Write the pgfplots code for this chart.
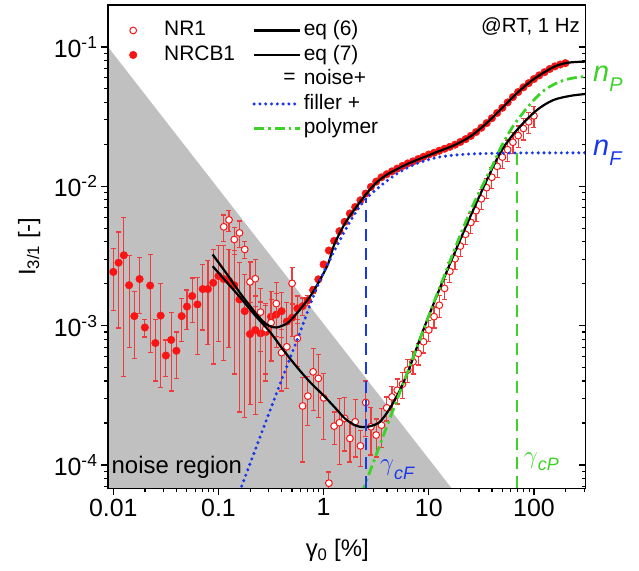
\documentclass[border=0pt]{standalone}
\usepackage{fontspec}
\setmainfont{Liberation Sans}
\usepackage{pgfplots}
\pgfplotsset{compat=1.18}

\definecolor{dotred}{RGB}{250,20,20}
\definecolor{barred}{RGB}{238,60,60}
\definecolor{fillerblue}{RGB}{25,55,235}
\definecolor{polygreen}{RGB}{60,210,40}
\definecolor{noisegray}{RGB}{192,192,192}

\begin{document}
\begin{tikzpicture}
\path[use as bounding box] (-108bp,-82bp) rectangle (531bp,488.3bp);

% right-hand axis: ticks pointing into the plot
\begin{axis}[
  scale only axis, width=477.6bp, height=483.3bp,
  at={(0,0)}, anchor=south west,
  xmode=log, ymode=log,
  xmin=0.0089, xmax=310, ymin=6.8e-5, ymax=0.2,
  axis line style={line width=1.6bp},
  major tick length=7bp, minor tick length=4bp,
  tick style={black, line width=1.2bp},
  ytick={1e-4,1e-3,1e-2,1e-1},
  minor ytick={7e-5,8e-5,9e-5,2e-4,3e-4,4e-4,5e-4,6e-4,7e-4,8e-4,9e-4,
    2e-3,3e-3,4e-3,5e-3,6e-3,7e-3,8e-3,9e-3,2e-2,3e-2,4e-2,5e-2,6e-2,7e-2,8e-2,9e-2},
  hide x axis, axis y line*=right,
  yticklabels={}, tick align=inside]
\end{axis}

\begin{axis}[
  scale only axis, width=477.6bp, height=483.3bp,
  at={(0,0)}, anchor=south west,
  xmode=log, ymode=log,
  xmin=0.0089, xmax=310, ymin=6.8e-5, ymax=0.2,
  axis line style={line width=1.6bp},
  major tick length=7bp, minor tick length=4bp,
  tick style={black, line width=1.2bp},
  ytick={1e-4,1e-3,1e-2,1e-1},
  minor ytick={7e-5,8e-5,9e-5,2e-4,3e-4,4e-4,5e-4,6e-4,7e-4,8e-4,9e-4,
    2e-3,3e-3,4e-3,5e-3,6e-3,7e-3,8e-3,9e-3,2e-2,3e-2,4e-2,5e-2,6e-2,7e-2,8e-2,9e-2},
  axis on top, clip mode=individual,
  xtick pos=left, ytick pos=left, tick align=outside,
  xtick={0.01,0.1,1,10,100},
  xticklabels={0.01,0.1,1,10,100},
  minor xtick={0.02,0.03,0.04,0.05,0.06,0.07,0.08,0.09,0.2,0.3,0.4,0.5,0.6,0.7,0.8,0.9,
    2,3,4,5,6,7,8,9,20,30,40,50,60,70,80,90,200,300},
  yticklabels={10\textsuperscript{-4},10\textsuperscript{-3},10\textsuperscript{-2},10\textsuperscript{-1}},
  tick label style={font=\fontsize{25}{29}\selectfont},
  xlabel={γ\textsubscript{0} [\%]},
  ylabel={I\textsubscript{3/1} [-]},
  label style={font=\fontsize{24}{28}\selectfont},
  xlabel style={at={(axis description cs:0.48,-0.128)}, anchor=center},
  ylabel style={at={(axis description cs:-0.165,0.5)}, anchor=center},
  legend columns=2,
  legend cell align=left,
  legend style={
    at={(axis description cs:0,1)}, anchor=north west,
    xshift=0bp, yshift=-13bp,
    draw=none, fill=none, inner sep=0pt,
    font=\fontsize{21}{25}\selectfont,
    nodes={inner sep=2bp, text height=15.5bp, text depth=5bp},
    /tikz/every even column/.append style={column sep=9bp},
  },
  legend image code/.code={\path[draw=none, fill=none] (0bp,-1bp) rectangle (54bp,1bp);
    \draw[mark repeat=2,mark phase=2,#1]
    plot coordinates {(8bp,0bp) (25bp,0bp) (54bp,0bp)};},
]

% noise region
\addplot[fill=noisegray, draw=none, forget plot]
  coordinates {(0.0089,0.1) (16.5,6.8e-5) (0.0089,6.8e-5)};

% NRCB1 (filled)
\addplot[barred, only marks, mark=*, mark size=3.8bp, mark options={draw=dotred, fill=dotred},
  forget plot, error bars/.cd, y dir=both, y explicit,
  error bar style={barred, line width=1.2bp},
  error mark options={rotate=90, mark size=2.5bp, barred, line width=1.2bp}] coordinates {
(0.01,2.43e-3) +- (0,1.15e-3)
(0.01122,2.83e-3) +- (0,1.87e-3)
(0.01259,3.2e-3) +- (0,2.77e-3)
(0.01413,1.95e-3) +- (0,1.25e-3)
(0.01585,1.17e-3) +- (0,5.9e-4)
(0.01778,2.16e-3) +- (0,9.4e-4)
(0.01995,9.7e-4) +- (0,1.4e-4)
(0.02239,1.94e-3) +- (0,1.3e-3)
(0.02512,7.5e-4) +- (0,3.5e-4)
(0.02818,1.18e-3) +- (0,8.2e-4)
(0.03162,6.1e-4) +- (0,1.8e-4)
(0.03548,7.9e-4) +- (0,4.5e-4)
(0.03981,6.6e-4) +- (0,2.4e-4)
(0.04467,1.17e-3) +- (0,4e-4)
(0.05012,1.37e-3) +- (0,4.3e-4)
(0.05623,1.63e-3) +- (0,5.7e-4)
(0.0631,1.42e-3) +- (0,8e-4)
(0.07079,1.83e-3) +- (0,9e-4)
(0.07943,1.83e-3) +- (0,1.1e-3)
(0.08913,2.03e-3) +- (0,1.5e-3)
(0.1,2.27e-3) +- (0,1.5e-3)
(0.1122,2.16e-3) +- (0,1.6e-3)
(0.1259,2.1e-3) +- (0,1.4e-3)
(0.1413,1.95e-3) +- (0,1.5e-3)
(0.1585,1.54e-3) +- (0,1.3e-3)
(0.1778,1.27e-3) +- (0,1.05e-3)
(0.1995,8.7e-4) +- (0,6e-4)
(0.2239,9.3e-4) +- (0,7e-4)
(0.2512,8.8e-4) +- (0,6e-4)
(0.2818,9.0e-4) +- (0,5e-4)
(0.3162,1.16e-3) +- (0,6e-4)
(0.3548,1.2e-3) +- (0,5e-4)
(0.3981,1.27e-3) +- (0,4.5e-4)
(0.4467,1.07e-3) +- (0,4e-4)
(0.5012,1.14e-3) +- (0,3e-4)
(0.5623,1.33e-3) +- (0,3e-4)
(0.631,1.38e-3) +- (0,2e-4)
(0.7079,1.52e-3) +- (0,1.2e-4)
(0.7943,1.8e-3) +- (0,1e-4)
(0.8913,2.15e-3) +- (0,0)
(1,2.75e-3) +- (0,0)
(1.122,3.46e-3) +- (0,0)
(1.259,4.06e-3) +- (0,0)
(1.413,4.76e-3) +- (0,0)
(1.585,5.56e-3) +- (0,0)
(1.778,6.38e-3) +- (0,0)
(1.995,7.1e-3) +- (0,0)
(2.239,7.94e-3) +- (0,0)
(2.512,8.87e-3) +- (0,0)
(2.818,9.9e-3) +- (0,0)
(3.162,1.08e-2) +- (0,0)
(3.548,1.16e-2) +- (0,0)
(3.981,1.22e-2) +- (0,0)
(4.467,1.28e-2) +- (0,0)
(5.012,1.34e-2) +- (0,0)
(5.623,1.40e-2) +- (0,0)
(6.31,1.46e-2) +- (0,0)
(7.079,1.51e-2) +- (0,0)
(7.943,1.57e-2) +- (0,0)
(8.913,1.63e-2) +- (0,0)
(10,1.69e-2) +- (0,0)
(11.22,1.74e-2) +- (0,0)
(12.59,1.80e-2) +- (0,0)
(14.13,1.86e-2) +- (0,0)
(15.85,1.92e-2) +- (0,0)
(17.78,1.99e-2) +- (0,0)
(19.95,2.08e-2) +- (0,0)
(22.39,2.18e-2) +- (0,0)
(25.12,2.30e-2) +- (0,0)
(28.18,2.45e-2) +- (0,0)
(31.62,2.63e-2) +- (0,0)
(35.48,2.84e-2) +- (0,0)
(39.81,3.08e-2) +- (0,0)
(44.67,3.36e-2) +- (0,0)
(50.12,3.66e-2) +- (0,0)
(56.23,4.00e-2) +- (0,0)
(63.1,4.37e-2) +- (0,0)
(70.79,4.75e-2) +- (0,0)
(79.43,5.13e-2) +- (0,0)
(89.13,5.50e-2) +- (0,0)
(100,5.89e-2) +- (0,0)
(112.2,6.25e-2) +- (0,0)
(125.9,6.59e-2) +- (0,0)
(141.3,6.95e-2) +- (0,0)
(158.5,7.26e-2) +- (0,0)
(177.8,7.48e-2) +- (0,0)
(199.5,7.66e-2) +- (0,0)
};

% NR1 (open)
\addplot[barred, only marks, mark=*, mark size=3.4bp, mark options={draw=dotred, fill=white, line width=1bp},
  forget plot, error bars/.cd, y dir=both, y explicit,
  error bar style={barred, line width=1.2bp},
  error mark options={rotate=90, mark size=2.5bp, barred, line width=1.2bp}] coordinates {
(0.1122,5.12e-3) +- (0,1.1e-3)
(0.1259,5.74e-3) +- (0,1.0e-3)
(0.1413,4.15e-3) +- (0,9e-4)
(0.1585,4.63e-3) +- (0,1.0e-3)
(0.1778,3.52e-3) +- (0,5e-4)
(0.1995,2.06e-3) +- (0,8e-4)
(0.2239,2.17e-3) +- (0,8e-4)
(0.2512,1.25e-3) +- (0,6e-4)
(0.2818,9.5e-4) +- (0,5e-4)
(0.3162,1.05e-3) +- (0,5e-4)
(0.3548,1.44e-3) +- (0,6e-4)
(0.3981,6.4e-4) +- (0,3e-4)
(0.4467,7.05e-4) +- (0,3.5e-4)
(0.5012,2.01e-3) +- (0,6e-4)
(0.5623,8.1e-4) +- (0,3e-4)
(0.631,2.65e-4) +- (0,1.6e-4)
(0.7079,3.12e-4) +- (0,1.2e-4)
(0.7943,4.66e-4) +- (0,2.2e-4)
(0.8913,4.18e-4) +- (0,2e-4)
(1,3.03e-4) +- (0,1.5e-4)
(1.122,7.4e-5) +- (0,1.5e-5)
(1.259,1.9e-4) +- (0,5e-5)
(1.413,2.01e-4) +- (0,1.0e-4)
(1.585,2.16e-4) +- (0,9e-5)
(1.778,1.55e-4) +- (0,5e-5)
(1.995,2.04e-4) +- (0,9e-5)
(2.239,1.37e-4) +- (0,4e-5)
(2.512,2.81e-4) +- (0,1.2e-4)
(2.818,1.88e-4) +- (0,7e-5)
(3.162,1.64e-4) +- (0,5e-5)
(3.548,1.93e-4) +- (0,6e-5)
(3.981,2.57e-4) +- (0,5e-5)
(4.467,3.08e-4) +- (0,6e-5)
(5.012,3.44e-4) +- (0,7e-5)
(5.623,3.8e-4) +- (0,8e-5)
(6.31,4.8e-4) +- (0,9e-5)
(7.079,5.5e-4) +- (0,1e-4)
(7.943,6.32e-4) +- (0,1.1e-4)
(8.913,7.66e-4) +- (0,1.3e-4)
(10,9.3e-4) +- (0,1.6e-4)
(11.22,1.16e-3) +- (0,2e-4)
(12.59,1.4e-3) +- (0,2.5e-4)
(14.13,1.85e-3) +- (0,3e-4)
(15.85,2.45e-3) +- (0,4e-4)
(17.78,3.02e-3) +- (0,5e-4)
(19.95,3.72e-3) +- (0,6e-4)
(22.39,4.52e-3) +- (0,7e-4)
(25.12,5.5e-3) +- (0,9e-4)
(28.18,6.68e-3) +- (0,1.1e-3)
(31.62,8.13e-3) +- (0,1.3e-3)
(35.48,9.77e-3) +- (0,1.6e-3)
(39.81,1.16e-2) +- (0,2e-3)
(44.67,1.39e-2) +- (0,2.4e-3)
(50.12,1.62e-2) +- (0,2.8e-3)
(56.23,1.83e-2) +- (0,3.2e-3)
(63.1,2.07e-2) +- (0,3.6e-3)
(70.79,2.31e-2) +- (0,4e-3)
(79.43,2.6e-2) +- (0,4.5e-3)
(89.13,2.9e-2) +- (0,5e-3)
(100,3.2e-2) +- (0,5.5e-3)
};

% fit of NRCB1
\addplot[black, line width=2.2bp, smooth, forget plot] coordinates {
(0.088,3.24e-3) (0.12,2.35e-3) (0.16,1.72e-3) (0.2,1.38e-3) (0.25,1.12e-3)
(0.3,1.0e-3) (0.357,9.7e-4) (0.45,1.04e-3) (0.553,1.22e-3) (0.74,1.61e-3)
(0.92,2.12e-3) (1.107,2.79e-3) (1.259,3.80e-3) (1.585,5.37e-3) (1.995,6.92e-3)
(2.512,8.71e-3) (3.162,1.06e-2) (3.981,1.21e-2) (5.012,1.33e-2) (6.31,1.45e-2)
(7.943,1.56e-2) (10,1.67e-2) (12.59,1.79e-2) (15.85,1.91e-2) (19.95,2.07e-2)
(25.12,2.29e-2) (31.62,2.63e-2) (39.81,3.08e-2) (50.12,3.66e-2) (63.1,4.37e-2)
(79.43,5.13e-2) (100,5.89e-2) (125.9,6.59e-2) (158.5,7.26e-2) (199.5,7.66e-2)
(251.2,7.80e-2) (310,7.85e-2)
};

% fit of NR1
\addplot[black, line width=2.2bp, smooth, forget plot] coordinates {
(0.088,2.67e-3) (0.12,2.05e-3) (0.16,1.6e-3) (0.22,1.2e-3) (0.309,9.0e-4)
(0.413,6.7e-4) (0.55,5.1e-4) (0.75,3.9e-4) (1.0,3.15e-4) (1.3,2.55e-4)
(1.6,2.15e-4) (2.0,1.92e-4) (2.4,1.87e-4) (2.8,1.9e-4) (3.43,2.04e-4)
(4.27,2.55e-4) (5.31,3.44e-4) (6.61,5.06e-4) (8.22,8.0e-4) (10.2,1.22e-3)
(13.7,2.12e-3) (19.8,4.1e-3) (30.6,8.63e-3) (47.4,1.72e-2) (68.4,2.52e-2)
(106,3.51e-2) (152,4.15e-2) (219,4.45e-2) (294,4.58e-2) (310,4.6e-2)
};

% filler contribution
\addplot[fillerblue, line width=3.4bp, line cap=round, dash pattern=on 0bp off 5.8bp,
  smooth, forget plot] coordinates {
(0.158,6.46e-5) (0.170,7.38e-5) (0.251,1.62e-4) (0.398,4.07e-4) (0.575,8.32e-4)
(0.692,1.22e-3) (0.923,2.12e-3) (1.230,3.30e-3) (1.778,5.56e-3) (2.455,7.94e-3)
(3.715,1.047e-2) (5.309,1.268e-2) (7.674,1.455e-2) (10.96,1.585e-2) (14.79,1.652e-2)
(25.12,1.706e-2) (63.1,1.734e-2) (310,1.738e-2)
};

% polymer contribution
\addplot[polygreen, line width=2.8bp, dash pattern=on 10bp off 4bp on 2.5bp off 4bp,
  smooth, forget plot] coordinates {
(2.291,6.17e-5) (3.981,1.88e-4) (5.623,3.72e-4) (7.943,7.41e-4) (11.22,1.48e-3)
(15.85,2.88e-3) (19.95,4.47e-3) (25.12,6.76e-3) (31.62,9.77e-3) (39.81,1.38e-2)
(50.12,2.0e-2) (63.1,2.69e-2) (79.43,3.39e-2) (100,4.17e-2) (125.9,4.90e-2)
(158.5,5.43e-2) (199.5,5.82e-2) (251.2,6.03e-2) (310,6.14e-2)
};

% critical strains
\addplot[fillerblue, line width=2bp, dash pattern=on 12bp off 7bp, forget plot]
  coordinates {(2.51,6.8e-5) (2.51,8.2e-3)};
\addplot[polygreen, line width=2bp, dash pattern=on 12bp off 7bp, forget plot]
  coordinates {(69,6.8e-5) (69,1.74e-2)};

% legend
\addlegendimage{only marks, mark=*, mark size=3.4bp, mark options={draw=dotred, fill=white, line width=1bp}}
\addlegendentry{NR1}
\addlegendimage{black, line width=2.2bp}
\addlegendentry{eq (6)}
\addlegendimage{only marks, mark=*, mark size=3.8bp, mark options={draw=dotred, fill=dotred}}
\addlegendentry{NRCB1}
\addlegendimage{black, line width=2.2bp}
\addlegendentry{eq (7)}
\addlegendimage{empty legend}
\addlegendentry{}
\addlegendimage{legend image code/.code={\path[draw=none, fill=none] (0bp,-1bp) rectangle (54bp,1bp);
  \node[inner sep=0pt, font=\fontsize{21}{25}\selectfont] at (37bp,1bp) {=};}}
\addlegendentry{noise+}
\addlegendimage{empty legend}
\addlegendentry{}
\addlegendimage{fillerblue, line width=3.4bp, line cap=round, dash pattern=on 0bp off 5.8bp}
\addlegendentry{filler +}
\addlegendimage{empty legend}
\addlegendentry{}
\addlegendimage{polygreen, line width=2.8bp, dash pattern=on 10bp off 4bp on 2.5bp off 4bp}
\addlegendentry{polymer}

% annotations
\node[anchor=base east, inner sep=0pt, font=\fontsize{20.5}{24}\selectfont]
  at (axis description cs:1,1) [xshift=-5.5bp, yshift=-27.3bp] {@RT, 1 Hz};
\node[anchor=base west, inner sep=0pt, font=\fontsize{24}{28}\selectfont]
  at (axis description cs:0,0) [xshift=3.5bp, yshift=15bp] {noise region};
\node[anchor=base west, inner sep=0pt, text=polygreen, font=\fontsize{29}{32}\selectfont]
  at (axis cs:310,0.0561) [xshift=7.4bp] {\textit{n}\raisebox{-10bp}{\fontsize{20}{22}\selectfont\textit{P}}};
\node[anchor=base west, inner sep=0pt, text=fillerblue, font=\fontsize{29}{32}\selectfont]
  at (axis cs:310,0.0167) [xshift=7.4bp] {\textit{n}\raisebox{-10bp}{\fontsize{20}{22}\selectfont\textit{F}}};
\node[anchor=base west, inner sep=0pt, text=fillerblue, font=\fontsize{28}{32}\selectfont]
  at (axis cs:3.43,9.2e-5) {$\gamma$\raisebox{-9bp}{\fontsize{18}{20}\selectfont\textit{cF}}};
\node[anchor=base west, inner sep=0pt, text=polygreen, font=\fontsize{28}{32}\selectfont]
  at (axis cs:80,1.02e-4) {$\gamma$\raisebox{-7bp}{\fontsize{18}{20}\selectfont\textit{cP}}};
\end{axis}
\end{tikzpicture}
\end{document}
